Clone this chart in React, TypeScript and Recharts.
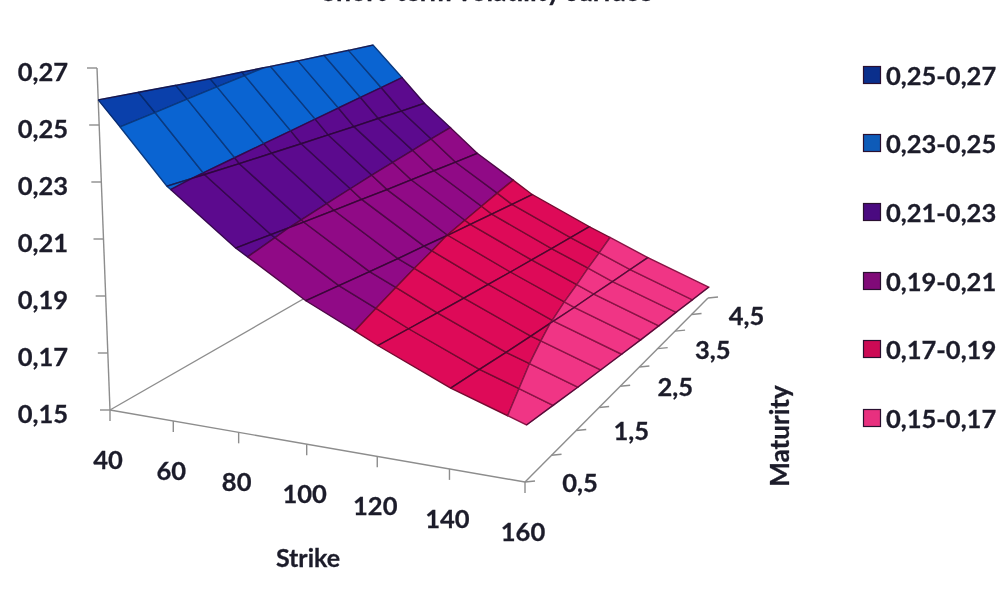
import React from 'react';
import { ScatterChart, Scatter, XAxis, YAxis } from 'recharts';

const strikes = [40, 60, 80, 100, 120, 140, 160];
const maturities = [0.5, 1, 1.5, 2, 2.5, 3, 3.5, 4, 4.5, 5];
const maturityLabels = ['0,5', '', '1,5', '', '2,5', '', '3,5', '', '4,5', ''];
const volTicks = [0.15, 0.17, 0.19, 0.21, 0.23, 0.25, 0.27];
const volLabels = ['0,15', '0,17', '0,19', '0,21', '0,23', '0,25', '0,27'];

// volatility: one row per maturity, one column per strike
const vol05 = [0.2588, 0.231, 0.2125, 0.1978, 0.1863, 0.176, 0.168];
const vol10 = [0.2568, 0.2295, 0.2109, 0.1961, 0.1846, 0.1744, 0.1662];
const vol15 = [0.2548, 0.228, 0.2093, 0.1944, 0.183, 0.1727, 0.1644];
const vol20 = [0.2529, 0.2267, 0.2078, 0.1928, 0.1815, 0.1712, 0.1628];
const vol25 = [0.2513, 0.2254, 0.2064, 0.1914, 0.1801, 0.1698, 0.1612];
const vol30 = [0.2496, 0.2242, 0.205, 0.1899, 0.1787, 0.1684, 0.1597];
const vol35 = [0.248, 0.223, 0.2038, 0.1886, 0.1774, 0.1672, 0.1583];
const vol40 = [0.2465, 0.2219, 0.2025, 0.1873, 0.1761, 0.1659, 0.157];
const vol45 = [0.2449, 0.2207, 0.2012, 0.186, 0.1749, 0.1647, 0.1556];
const vol50 = [0.2434, 0.2196, 0.2, 0.1847, 0.1736, 0.1634, 0.1542];
const surface = [vol05, vol10, vol15, vol20, vol25, vol30, vol35, vol40, vol45, vol50];

const bands = [
  { name: '0,25-0,27', lo: 0.25, hi: 0.27, fill: '#0a40ab', swatch: '#0a2f8c', line: '#062a70' },
  { name: '0,23-0,25', lo: 0.23, hi: 0.25, fill: '#0a64d2', swatch: '#0e5bb8', line: '#0a3a80' },
  { name: '0,21-0,23', lo: 0.21, hi: 0.23, fill: '#5c0a8e', swatch: '#4a0a80', line: '#36084e' },
  { name: '0,19-0,21', lo: 0.19, hi: 0.21, fill: '#900a86', swatch: '#800a78', line: '#4e0846' },
  { name: '0,17-0,19', lo: 0.17, hi: 0.19, fill: '#de0a58', swatch: '#cc0a55', line: '#740a30' },
  { name: '0,15-0,17', lo: 0.15, hi: 0.17, fill: '#f03585', swatch: '#e8307f', line: '#8a1446' },
];

// view of the 3D box: fractions along the two floor axes and the corners
const U = [0, 0.1525, 0.31, 0.474, 0.644, 0.818, 1];
const V = [0, 0.145, 0.28, 0.405, 0.52, 0.625, 0.725, 0.82, 0.91, 1];
const floor = { o: [110, 410], a: [525, 482], b: [708, 298], c: [366, 263] };
const up = { o: [-13, -342], a: [10, -380], b: [20, -310], c: [9, -280] };

const frac = (arr: number[], t: number) => {
  const i = Math.min(Math.floor(t), arr.length - 2);
  return arr[i] + (arr[i + 1] - arr[i]) * (t - i);
};
const bil = (q: any, u: number, v: number, k: number) =>
  (1 - u) * (1 - v) * q.o[k] + u * (1 - v) * q.a[k] + u * v * q.b[k] + (1 - u) * v * q.c[k];
const project = (i: number, j: number, z: number) => {
  const u = frac(U, i);
  const v = frac(V, j);
  const f = (z - 0.15) / 0.12;
  return { x: bil(floor, u, v, 0) + f * bil(up, u, v, 0), y: bil(floor, u, v, 1) + f * bil(up, u, v, 1) };
};

type P = [number, number, number];
const clip = (poly: P[], level: number, keepAbove: boolean) => {
  const out: P[] = [];
  poly.forEach((p, n) => {
    const q = poly[(n + 1) % poly.length];
    const pin = keepAbove ? p[2] >= level : p[2] <= level;
    const qin = keepAbove ? q[2] >= level : q[2] <= level;
    if (pin) out.push(p);
    if (pin !== qin) {
      const t = (level - p[2]) / (q[2] - p[2]);
      out.push([p[0] + (q[0] - p[0]) * t, p[1] + (q[1] - p[1]) * t, level]);
    }
  });
  return out;
};

const facets: { pts: { x: number; y: number }[]; fill: string; line: string }[] = [];
for (let j = 0; j < maturities.length - 1; j++) {
  for (let i = 0; i < strikes.length - 1; i++) {
    const quad: P[] = [
      [i, j, surface[j][i]],
      [i + 1, j, surface[j][i + 1]],
      [i + 1, j + 1, surface[j + 1][i + 1]],
      [i, j + 1, surface[j + 1][i]],
    ];
    bands.forEach((b) => {
      const poly = clip(clip(quad, b.lo, true), b.hi, false);
      if (poly.length > 2) {
        const pts = poly.map((p) => project(p[0], p[1], p[2]));
        facets.push({ pts: [...pts, pts[0]], fill: b.fill, line: b.line });
      }
    });
  }
}

const strikeLines = strikes.map((_, i) => maturities.map((_m, j) => project(i, j, surface[j][i])));

const none = () => <g />;
const AXIS = '#8d8d8d';
const INK = '#1c1c2a';
const text = (size: number, anchor: string, dy = 0) => (p: any) => (
  <text
    x={p.cx}
    y={p.cy + dy}
    textAnchor={anchor}
    dominantBaseline="central"
    fontFamily="Lato"
    fontWeight={700}
    fontSize={size}
    fill={INK}
    stroke={INK}
    strokeWidth={0.3}
  >
    {p.payload.label}
  </text>
);

const floorO = project(0, 0, 0.15);
const floorA = project(6, 0, 0.15);
const floorB = project(6, 9, 0.15);
const floorC = project(0, 9, 0.15);
const axisLines = [
  [floorO, floorA],
  [floorA, floorB],
  [floorO, floorC],
  [floorO, project(0, 0, 0.27)],
];
const volTickLines = volTicks.map((z) => {
  const p = project(0, 0, z);
  return [p, { x: p.x - 10, y: p.y }];
});
const strikeTickLines = strikes.map((_, i) => {
  const p = project(i, 0, 0.15);
  return [p, { x: p.x, y: p.y + 11 }];
});
const matTickLines = maturities.map((_, j) => {
  const p = project(6, j, 0.15);
  return [p, { x: p.x + 10, y: p.y - 1 }];
});

const volLabelData = volTicks.map((z, n) => {
  const p = project(0, 0, z);
  return { x: 68, y: p.y + 3, label: volLabels[n] };
});
const strikeLabelData = strikes.map((s, i) => {
  const p = project(i, 0, 0.15);
  return { x: p.x - 2, y: p.y + 49, label: String(s) };
});
const matLabelData = maturityLabels
  .map((label, j) => {
    const p = project(6, j, 0.15);
    return { x: p.x + 55, y: p.y, label };
  })
  .filter((d) => d.label);

const legendRows = [75, 143, 212, 281, 349, 418];
const legendLabels = bands.map((b, n) => ({ x: 886, y: legendRows[n], label: b.name }));
const swatchShape = (p: any) => (
  <rect x={p.cx - 8.5} y={p.cy - 8.5} width={17} height={17} fill={p.payload.fill} stroke="#2a1030" strokeWidth={1.2} />
);
const legendSwatches = bands.map((b, n) => ({ x: 872, y: legendRows[n], fill: b.swatch }));

export default function App() {
  const plain = (key: string, pts: any[], stroke: string, width = 1, opacity = 1) => (
    <Scatter
      key={key}
      data={pts}
      isAnimationActive={false}
      shape={none}
      line={{ stroke, strokeWidth: width, fill: 'none', strokeOpacity: opacity }}
    />
  );
  return (
    <div style={{ position: 'absolute', left: 0, top: 0, width: 1008, height: 590, background: '#fff', filter: 'blur(0.7px)' }}>
      <ScatterChart width={1008} height={590} margin={{ top: 0, right: 0, bottom: 0, left: 0 }}>
        <XAxis type="number" dataKey="x" domain={[0, 1008]} hide />
        <YAxis type="number" dataKey="y" domain={[0, 590]} reversed hide />
        {axisLines.map((l, n) => plain('axis' + n, l, AXIS, 1.4))}
        {volTickLines.map((l, n) => plain('vt' + n, l, AXIS, 1.4))}
        {strikeTickLines.map((l, n) => plain('st' + n, l, AXIS, 1.4))}
        {matTickLines.map((l, n) => plain('mt' + n, l, AXIS, 1.4))}
        {facets.map((f, n) => (
          <Scatter
            key={'f' + n}
            data={f.pts}
            isAnimationActive={false}
            shape={none}
            line={{ stroke: f.line, strokeWidth: 1.4, fill: f.fill }}
          />
        ))}
        {strikeLines.map((l, n) => plain('sl' + n, l, '#2a0630', 1.3, 0.55))}
        <Scatter data={volLabelData} isAnimationActive={false} shape={text(25.5, 'end')} />
        <Scatter data={strikeLabelData} isAnimationActive={false} shape={text(25.5, 'middle')} />
        <Scatter data={matLabelData} isAnimationActive={false} shape={text(25.5, 'middle')} />
        <Scatter data={[{ x: 308, y: 557, label: 'Strike' }]} isAnimationActive={false} shape={text(25, 'middle')} />
        <Scatter
          data={[{ x: 779, y: 436, label: 'Maturity' }]}
          isAnimationActive={false}
          shape={(p: any) => (
            <text
              x={p.cx}
              y={p.cy}
              transform={`rotate(-90 ${p.cx} ${p.cy})`}
              textAnchor="middle"
              dominantBaseline="central"
              fontFamily="Lato"
              fontWeight={700}
              fontSize={26}
              fill={INK}
              stroke={INK}
              strokeWidth={0.3}
            >
              {p.payload.label}
            </text>
          )}
        />
        <Scatter data={[{ x: 487, y: 0, label: 'Short-term volatility surface' }]} isAnimationActive={false} shape={text(26.5, 'middle', -9)} />
        <Scatter data={legendSwatches} isAnimationActive={false} shape={swatchShape} />
        <Scatter data={legendLabels} isAnimationActive={false} shape={text(25.5, 'start')} />
      </ScatterChart>
    </div>
  );
}
